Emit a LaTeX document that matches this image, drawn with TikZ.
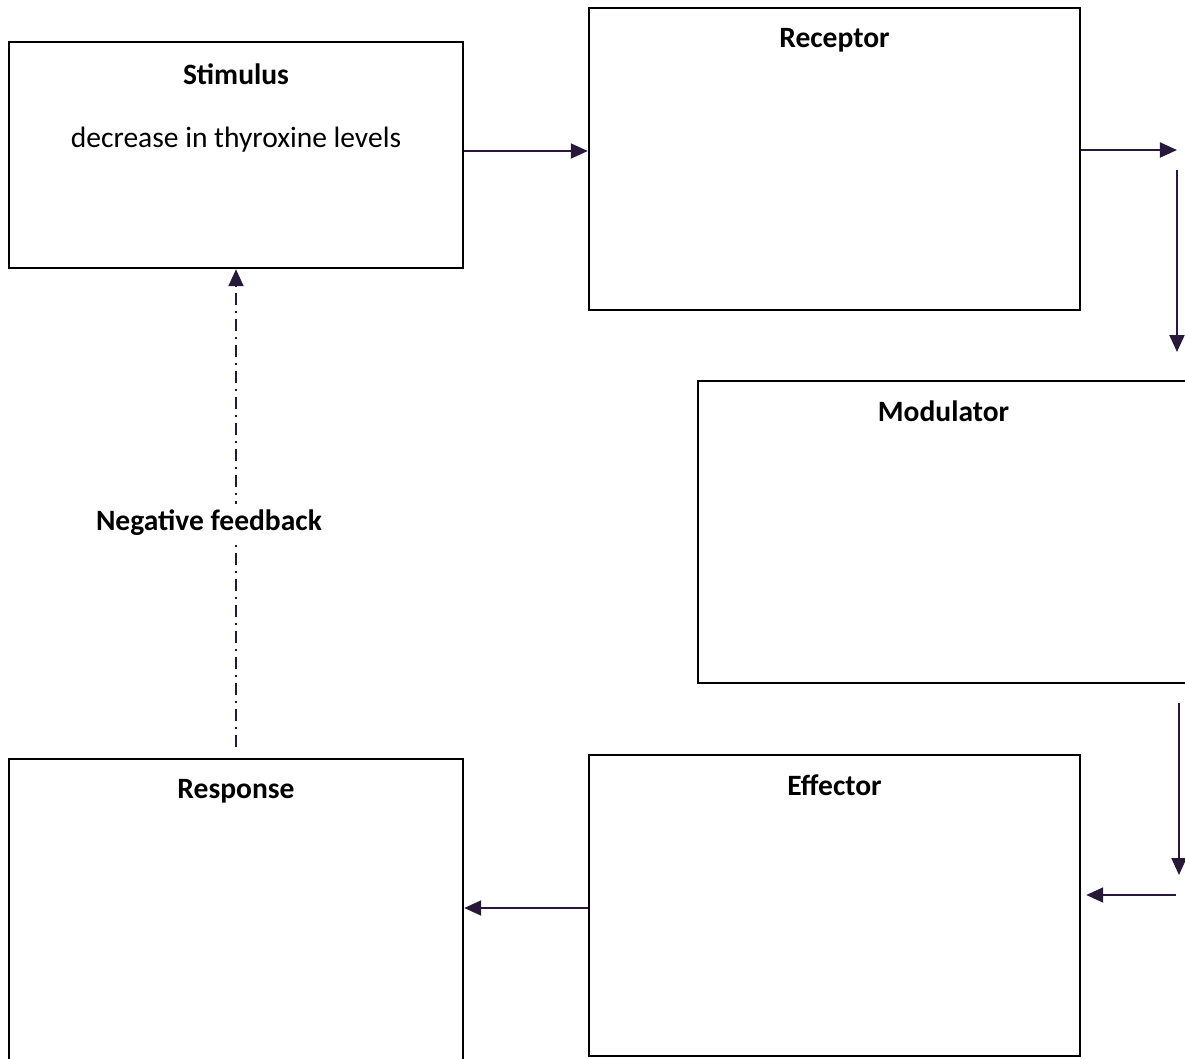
\documentclass[tikz,border=0pt]{standalone}
\usepackage{fontspec}
\setmainfont{Carlito}
\usetikzlibrary{arrows.meta,positioning}
\definecolor{arrowcol}{RGB}{40,24,58}
\tikzset{
  stagebox/.style={draw=black, line width=0.7pt, inner sep=0pt},
  title/.style={font=\fontsize{8.4}{10}\selectfont\bfseries, inner sep=0pt},
  arr/.style={draw=arrowcol, line width=0.55pt, -{Triangle[length=0.17cm,width=0.15cm]}},
  feedback/.style={arr, dash pattern=on 0.12cm off 0.06cm on 0.02cm off 0.06cm}
}
\begin{document}
\begin{tikzpicture}[font=\fontsize{8.4}{10}\selectfont]
    \useasboundingbox (0,0) rectangle (11.85,-10.59);

    % Boxes
    \node[stagebox, minimum width=4.54cm, minimum height=2.26cm] (stim) at (2.36,-1.55) {};
    \node[stagebox, minimum width=4.91cm, minimum height=3.02cm] (rec) at (8.345,-1.59) {};
    \node[stagebox, minimum width=4.91cm, minimum height=3.02cm] (mod) at (9.435,-5.32) {};
    \node[stagebox, minimum width=4.54cm, minimum height=3.02cm] (resp) at (2.36,-9.10) {};
    \node[stagebox, minimum width=4.91cm, minimum height=3.01cm] (eff) at (8.345,-9.055) {};

    % Titles
    \node[title] (stimtitle) at ([yshift=-0.33cm]stim.north) {Stimulus};
    \node[inner sep=0pt] (stimtext) at ([yshift=-0.99cm]stim.north) {decrease in thyroxine levels};
    \node[title] at ([yshift=-0.33cm]rec.north) {Receptor};
    \node[title] at ([yshift=-0.31cm]mod.north) {Modulator};
    \node[title] at ([yshift=-0.33cm]resp.north) {Response};
    \node[title] at ([yshift=-0.31cm]eff.north) {Effector};

    % Free ends on the right
    \coordinate (r1) at (11.77,-1.50);
    \coordinate (r2) at (11.77,-1.70);
    \coordinate (r3) at (11.77,-3.52);
    \coordinate (r4) at (11.79,-7.03);
    \coordinate (r5) at (11.79,-8.75);
    \coordinate (r6) at (11.76,-8.95);

    % Arrows
    \draw[arr] ([yshift=0.4mm]stim.east) -- ([yshift=0.4mm]stim.east -| rec.west);
    \draw[arr] (r1 -| rec.east) -- (r1);
    \draw[arr] (r2) -- (r3);
    \draw[arr] (r4) -- (r5);
    \draw[arr] (r6) -- ([xshift=0.5mm]r6 -| eff.east);
    \draw[arr] ([yshift=-0.25mm]eff.west) -- ([yshift=-0.25mm]eff.west -| resp.east);

    % Feedback
    \draw[feedback] ([yshift=1.1mm]resp.north) -- node[pos=0.47, fill=white, title, inner sep=1.5pt, xshift=-0.27cm] {Negative feedback} (stim.south);
\end{tikzpicture}
\end{document}
